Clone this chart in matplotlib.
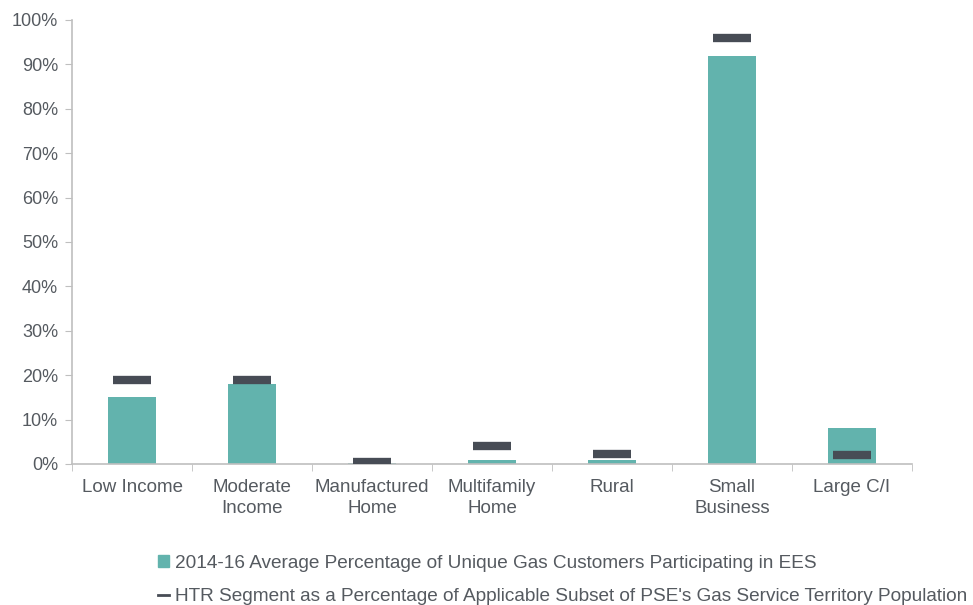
import matplotlib.pyplot as plt
from matplotlib.lines import Line2D
from matplotlib.patches import Patch
from matplotlib.ticker import PercentFormatter
import numpy as np

categories = ['Low Income', 'Moderate\nIncome', 'Manufactured\nHome', 'Multifamily\nHome',
              'Rural', 'Small\nBusiness', 'Large C/I']
participation = [15, 18, 0.2, 1, 1, 92, 8]
htr_segment = [19, 19, 0.4, 4, 2.2, 96, 2]
legend_labels = ['2014-16 Average Percentage of Unique Gas Customers Participating in EES',
                 "HTR Segment as a Percentage of Applicable Subset of PSE's Gas Service Territory Population"]

TEAL = '#62b3ad'
DARK = '#474c55'
GREY = '#555a60'
AXIS = '#bfbfbf'

plt.rcParams['font.family'] = ['Liberation Sans', 'DejaVu Sans']

fig = plt.figure(figsize=(9.73, 6.05), dpi=100)
ax = fig.add_axes([72/973, 141/605, 840/973, 444/605])

x = np.arange(len(categories))
ax.bar(x, participation, width=0.4, color=TEAL, zorder=2)
ax.hlines(htr_segment, x - 0.16, x + 0.16, color=DARK, linewidth=6, zorder=3)

ax.set_xlim(-0.5, len(categories) - 0.5)
ax.set_ylim(0, 100)
ax.set_yticks(np.arange(0, 101, 10))
ax.yaxis.set_major_formatter(PercentFormatter(decimals=0))
ax.set_xticks(x)
ax.set_xticklabels(categories, fontsize=13.5, color=GREY, linespacing=1.3)
ax.set_xticks(np.arange(-0.5, len(categories), 1), minor=True)
ax.tick_params(axis='x', which='major', length=0, pad=11)
ax.tick_params(axis='x', which='minor', length=5, color=AXIS)
ax.tick_params(axis='y', length=5, color=AXIS, labelsize=13, labelcolor=GREY, pad=5)

for side in ['top', 'right']:
    ax.spines[side].set_visible(False)
for side in ['left', 'bottom']:
    ax.spines[side].set_color(AXIS)
    ax.spines[side].set_linewidth(1.2)

handles = [Patch(facecolor=TEAL, edgecolor=TEAL),
           Line2D([0], [0], color=DARK, linewidth=2)]
fig.legend(handles, legend_labels, loc='upper left', bbox_to_anchor=(158/973, 1 - 555/605),
           frameon=False, handlelength=0.6, handleheight=0.6, handletextpad=0.3,
           labelspacing=0.85, borderpad=0, borderaxespad=0,
           prop={'family': ['Liberation Sans'], 'size': 13.7},
           labelcolor=GREY)

fig.savefig('out.png', dpi=100)
